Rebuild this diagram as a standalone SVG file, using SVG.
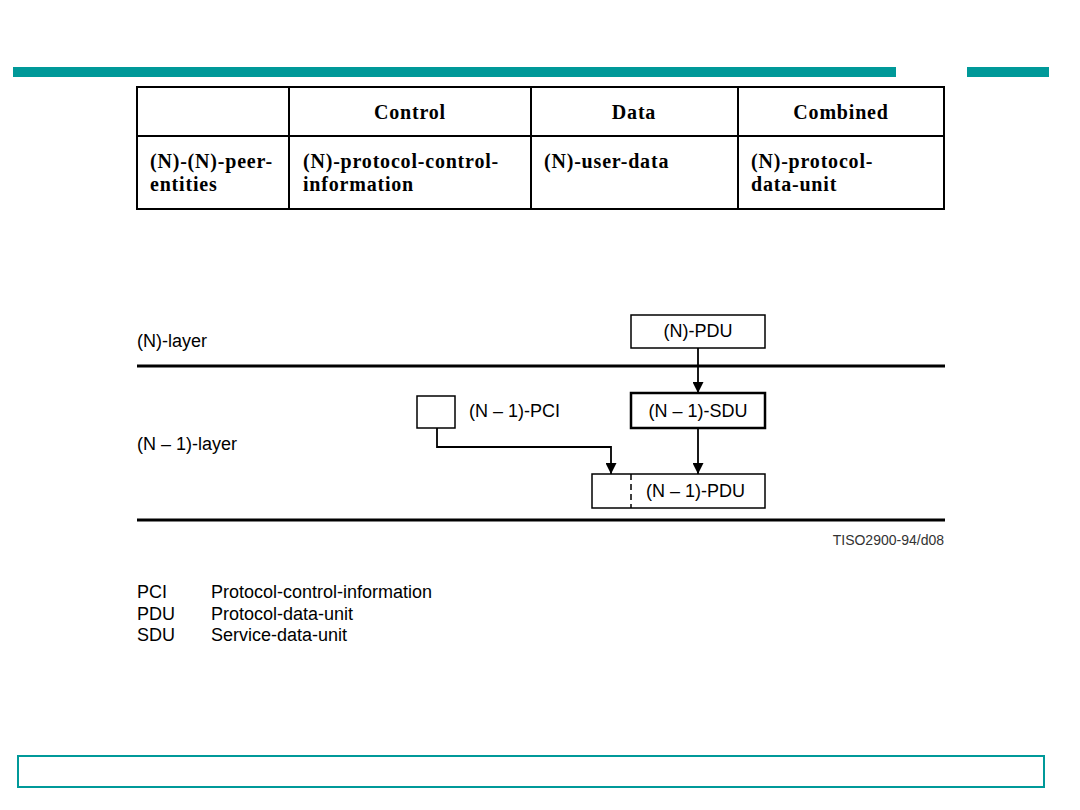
<svg xmlns="http://www.w3.org/2000/svg" width="1080" height="810" viewBox="0 0 1080 810">
<style>
.tbl{fill:none;stroke:#000;stroke-width:2}
.tt{font-family:"Liberation Serif","Times New Roman",serif;font-weight:bold;font-size:20px;letter-spacing:0.8px;fill:#000}
.st{font-family:"Liberation Sans",Arial,sans-serif;font-size:18px;fill:#000}
.box{fill:#fff;stroke:#000;stroke-width:1.5}
.conn{fill:none;stroke:#000;stroke-width:1.8}
</style>
<defs>
<marker id="ah" viewBox="0 0 10 10" refX="10" refY="5" markerWidth="11" markerHeight="11" markerUnits="userSpaceOnUse" orient="auto">
<path d="M0,0 L10,5 L0,10 Z" fill="#000"/>
</marker>
</defs>
<rect width="1080" height="810" fill="#fff"/>
<g id="decor">
<rect x="13" y="67" width="883" height="10" fill="#009999"/>
<rect x="967" y="67" width="82" height="10" fill="#009999"/>
<rect x="18" y="756" width="1026" height="31" fill="none" stroke="#009999" stroke-width="2"/>
</g>
<g id="table">
<rect class="tbl" x="137" y="87" width="807" height="122"/>
<line class="tbl" x1="137" y1="136" x2="944" y2="136"/>
<line class="tbl" x1="289" y1="87" x2="289" y2="209"/>
<line class="tbl" x1="531" y1="87" x2="531" y2="209"/>
<line class="tbl" x1="738" y1="87" x2="738" y2="209"/>
<text class="tt" x="410" y="119" text-anchor="middle">Control</text>
<text class="tt" x="634" y="119" text-anchor="middle">Data</text>
<text class="tt" x="841" y="119" text-anchor="middle">Combined</text>
<text class="tt" x="150" y="168">(N)-(N)-peer-</text>
<text class="tt" x="150" y="191">entities</text>
<text class="tt" x="303" y="168">(N)-protocol-control-</text>
<text class="tt" x="303" y="191">information</text>
<text class="tt" x="544" y="168">(N)-user-data</text>
<text class="tt" x="751" y="168">(N)-protocol-</text>
<text class="tt" x="751" y="191">data-unit</text>
</g>
<g id="layers">
<line x1="137" y1="366" x2="945" y2="366" stroke="#000" stroke-width="3"/>
<line x1="137" y1="520" x2="945" y2="520" stroke="#000" stroke-width="3"/>
<text class="st" x="137" y="347">(N)-layer</text>
<text class="st" x="137" y="450">(N – 1)-layer</text>
</g>
<g id="n-pdu">
<rect class="box" x="631" y="315" width="134" height="33"/>
<text class="st" x="698" y="337" text-anchor="middle">(N)-PDU</text>
</g>
<g id="n1-sdu">
<rect x="631" y="393" width="134" height="35" fill="#fff" stroke="#000" stroke-width="2.5"/>
<text class="st" x="698" y="417" text-anchor="middle">(N – 1)-SDU</text>
</g>
<g id="n1-pci">
<rect class="box" x="417" y="396" width="38" height="32"/>
<text class="st" x="469" y="417">(N – 1)-PCI</text>
</g>
<g id="n1-pdu">
<rect class="box" x="592" y="474" width="173" height="34"/>
<line x1="631" y1="474" x2="631" y2="508" stroke="#000" stroke-width="1.5" stroke-dasharray="6,4"/>
<text class="st" x="646" y="497">(N – 1)-PDU</text>
</g>
<g id="connectors">
<path class="conn" d="M698,348 L698,393" marker-end="url(#ah)"/>
<path class="conn" d="M698,428 L698,474" marker-end="url(#ah)"/>
<path class="conn" d="M437,428 L437,447 L611,447 L611,474" marker-end="url(#ah)"/>
</g>
<g id="legend">
<text x="944" y="545" text-anchor="end" font-family="Liberation Sans,Arial,sans-serif" font-size="14" fill="#333">TISO2900-94/d08</text>
<text class="st" x="137" y="598">PCI</text>
<text class="st" x="211" y="598">Protocol-control-information</text>
<text class="st" x="137" y="620">PDU</text>
<text class="st" x="211" y="620">Protocol-data-unit</text>
<text class="st" x="137" y="641">SDU</text>
<text class="st" x="211" y="641">Service-data-unit</text>
</g>
</svg>
